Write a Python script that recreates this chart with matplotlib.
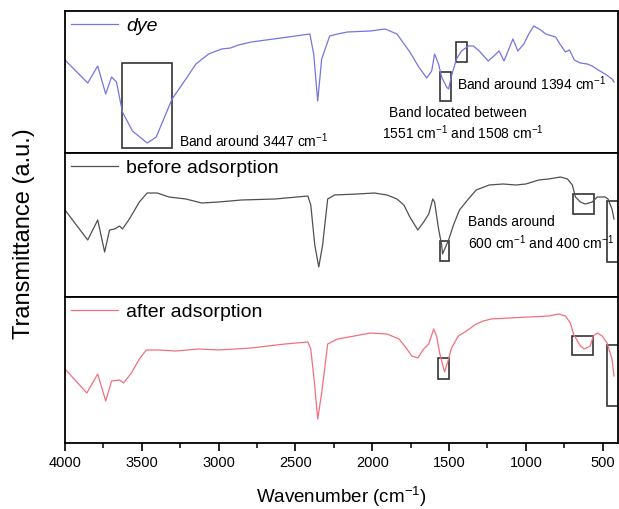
#!/usr/bin/env python3
"""FTIR spectra of the dye and the adsorbent before / after adsorption, stacked panels."""

import matplotlib
matplotlib.use("Agg")
import matplotlib.pyplot as plt
from matplotlib.patches import Rectangle
from matplotlib.ticker import MultipleLocator

plt.rcParams["font.family"] = ["Liberation Sans", "DejaVu Sans"]
plt.rcParams["mathtext.fontset"] = "custom"
plt.rcParams["mathtext.rm"] = "Liberation Sans"
plt.rcParams["mathtext.it"] = "Liberation Sans:italic"

# transmittance in arbitrary units
dye_wn = [4000, 3852, 3787, 3735, 3697, 3665, 3626, 3561, 3465, 3406,
          3303, 3213, 3148, 3065, 2981, 2923, 2871, 2787, 2594, 2406,
          2381, 2355, 2329, 2277, 2226, 2161, 2013, 1916, 1839, 1755,
          1697, 1645, 1613, 1594, 1568, 1548, 1516, 1503, 1484, 1452,
          1419, 1374, 1342, 1303, 1245, 1194, 1174, 1142, 1084, 1052,
          1013, 981, 948, 903, 871, 806, 774, 742, 716, 684,
          645, 600, 568, 529, 484, 439, 426]
dye_t = [93, 70, 87, 59, 76, 71, 41, 22, 10, 16,
         54, 74, 89, 99, 104, 105, 108, 111, 115, 119,
         99, 52, 94, 117, 119, 121, 122, 124, 119, 101,
         86, 75, 82, 99, 89, 76, 66, 64, 77, 94,
         102, 107, 107, 102, 92, 99, 102, 92, 114, 102,
         109, 119, 127, 123, 119, 116, 108, 101, 103, 93,
         90, 89, 87, 83, 79, 74, 71]

before_wn = [4000, 3852, 3787, 3742, 3710, 3677, 3645, 3626, 3581, 3516,
             3465, 3400, 3323, 3213, 3110, 3000, 2852, 2632, 2419, 2400,
             2374, 2348, 2323, 2290, 2245, 2097, 1987, 1903, 1839, 1794,
             1755, 1703, 1665, 1632, 1606, 1594, 1568, 1548, 1542, 1503,
             1471, 1432, 1374, 1323, 1239, 1148, 1065, 1000, 916, 852,
             774, 729, 697, 677, 645, 613, 568, 535, 484, 465,
             439, 426]
before_t = [87, 57, 77, 45, 67, 68, 71, 68, 78, 95,
            104, 104, 100, 98, 94, 95, 97, 98, 101, 92,
            52, 30, 52, 98, 102, 103, 104, 102, 98, 92,
            80, 67, 75, 83, 98, 95, 68, 52, 43, 57,
            72, 87, 98, 107, 112, 113, 112, 113, 117, 118,
            120, 118, 112, 100, 95, 93, 95, 100, 100, 98,
            88, 78]

after_wn = [4000, 3858, 3787, 3735, 3697, 3645, 3619, 3568, 3516, 3471,
            3387, 3277, 3129, 3000, 2787, 2568, 2419, 2400, 2374, 2355,
            2329, 2290, 2226, 2116, 2013, 1903, 1826, 1774, 1742, 1703,
            1665, 1632, 1600, 1581, 1561, 1529, 1503, 1484, 1439, 1387,
            1323, 1277, 1226, 1110, 981, 852, 787, 742, 710, 690,
            645, 619, 581, 561, 535, 503, 471, 439, 426]
after_t = [74, 50, 69, 42, 62, 63, 60, 70, 84, 93,
           93, 92, 94, 93, 95, 99, 101, 94, 57, 24,
           50, 99, 104, 107, 110, 109, 104, 94, 87, 85,
           94, 99, 114, 107, 90, 71, 84, 95, 107, 112,
           119, 122, 124, 125, 126, 127, 129, 127, 120, 109,
           97, 94, 97, 107, 110, 107, 100, 84, 67]

labels = ["dye", "before adsorption", "after adsorption"]
colors = ["#7474e4", "#505050", "#f2707e"]

# highlighted bands per panel: (wn_high, wn_low, t_low, t_high)
dye_boxes = [(3626, 3303, 5, 90), (1561, 1490, 52, 81), (1452, 1381, 91, 111)]
before_boxes = [(1561, 1497, 36, 56), (690, 555, 83, 103), (471, 300, 35, 96)]
after_boxes = [(1574, 1503, 64, 85), (697, 561, 88, 107), (471, 300, 37, 98)]


def add_boxes(ax, boxes):
    for hi, lo, t0, t1 in boxes:
        ax.add_patch(Rectangle((lo, t0), hi - lo, t1 - t0, fill=False,
                               edgecolor="#333333", linewidth=1.2))


def main() -> None:
    W, H = 619, 510
    fig = plt.figure(figsize=(W / 100, H / 100), dpi=100)

    # panel extents in pixels (top, bottom)
    rows = [(12, 154), (154, 298), (298, 444)]
    left, right = 65, 618
    axes = []
    for top, bot in rows:
        ax = fig.add_axes([left / W, 1 - bot / H, (right - left) / W, (bot - top) / H])
        axes.append(ax)

    series = [(dye_wn, dye_t), (before_wn, before_t), (after_wn, after_t)]
    for ax, (wn, t), lab, col, (top, bot) in zip(axes, series, labels, colors, rows):
        ax.plot(wn, t, color=col, linewidth=0.9, label=lab)
        ax.set_xlim(4000, 400)
        ax.set_ylim(0, bot - top)
        ax.set_yticks([])
        for sp in ax.spines.values():
            sp.set_linewidth(1.3)
        leg = ax.legend(loc="upper left", frameon=False, fontsize=14,
                        handlelength=2.4, handletextpad=0.45,
                        borderaxespad=0.0, borderpad=0.3)
        if lab == "dye":
            leg.get_texts()[0].set_fontstyle("italic")

    for ax in axes[:2]:
        ax.tick_params(axis="x", bottom=False, labelbottom=False)

    ax3 = axes[2]
    ax3.xaxis.set_major_locator(MultipleLocator(500))
    ax3.xaxis.set_minor_locator(MultipleLocator(250))
    ax3.tick_params(axis="x", which="major", direction="out", length=6, width=1.2,
                    labelsize=10.5, pad=3)
    ax3.tick_params(axis="x", which="minor", direction="out", length=3.5, width=1.1)

    add_boxes(axes[0], dye_boxes)
    add_boxes(axes[1], before_boxes)
    add_boxes(axes[2], after_boxes)

    fs = 10
    a0 = axes[0]
    a0.text(3258, 13, r"Band around 3447 cm$^{-1}$", fontsize=fs, va="center", ha="left")
    a0.text(1445, 70, r"Band around 1394 cm$^{-1}$", fontsize=fs, va="center", ha="left")
    a0.text(1440, 41, "Band located between", fontsize=fs, va="center", ha="center")
    a0.text(1408, 21, r"1551 cm$^{-1}$ and 1508 cm$^{-1}$", fontsize=fs, va="center", ha="center")

    a1 = axes[1]
    a1.text(1376, 76, "Bands around", fontsize=fs, va="center", ha="left")
    a1.text(1376, 55, r"600 cm$^{-1}$ and 400 cm$^{-1}$", fontsize=fs, va="center", ha="left")

    fig.text(341 / W, 1 - 497 / H, r"Wavenumber (cm$^{-1}$)", fontsize=13.5,
             ha="center", va="center")
    fig.text(24 / W, 1 - 234 / H, "Transmittance (a.u.)", fontsize=17,
             ha="center", va="center", rotation=90)

    fig.savefig("out.png", dpi=100)
    plt.close(fig)


if __name__ == "__main__":
    main()
